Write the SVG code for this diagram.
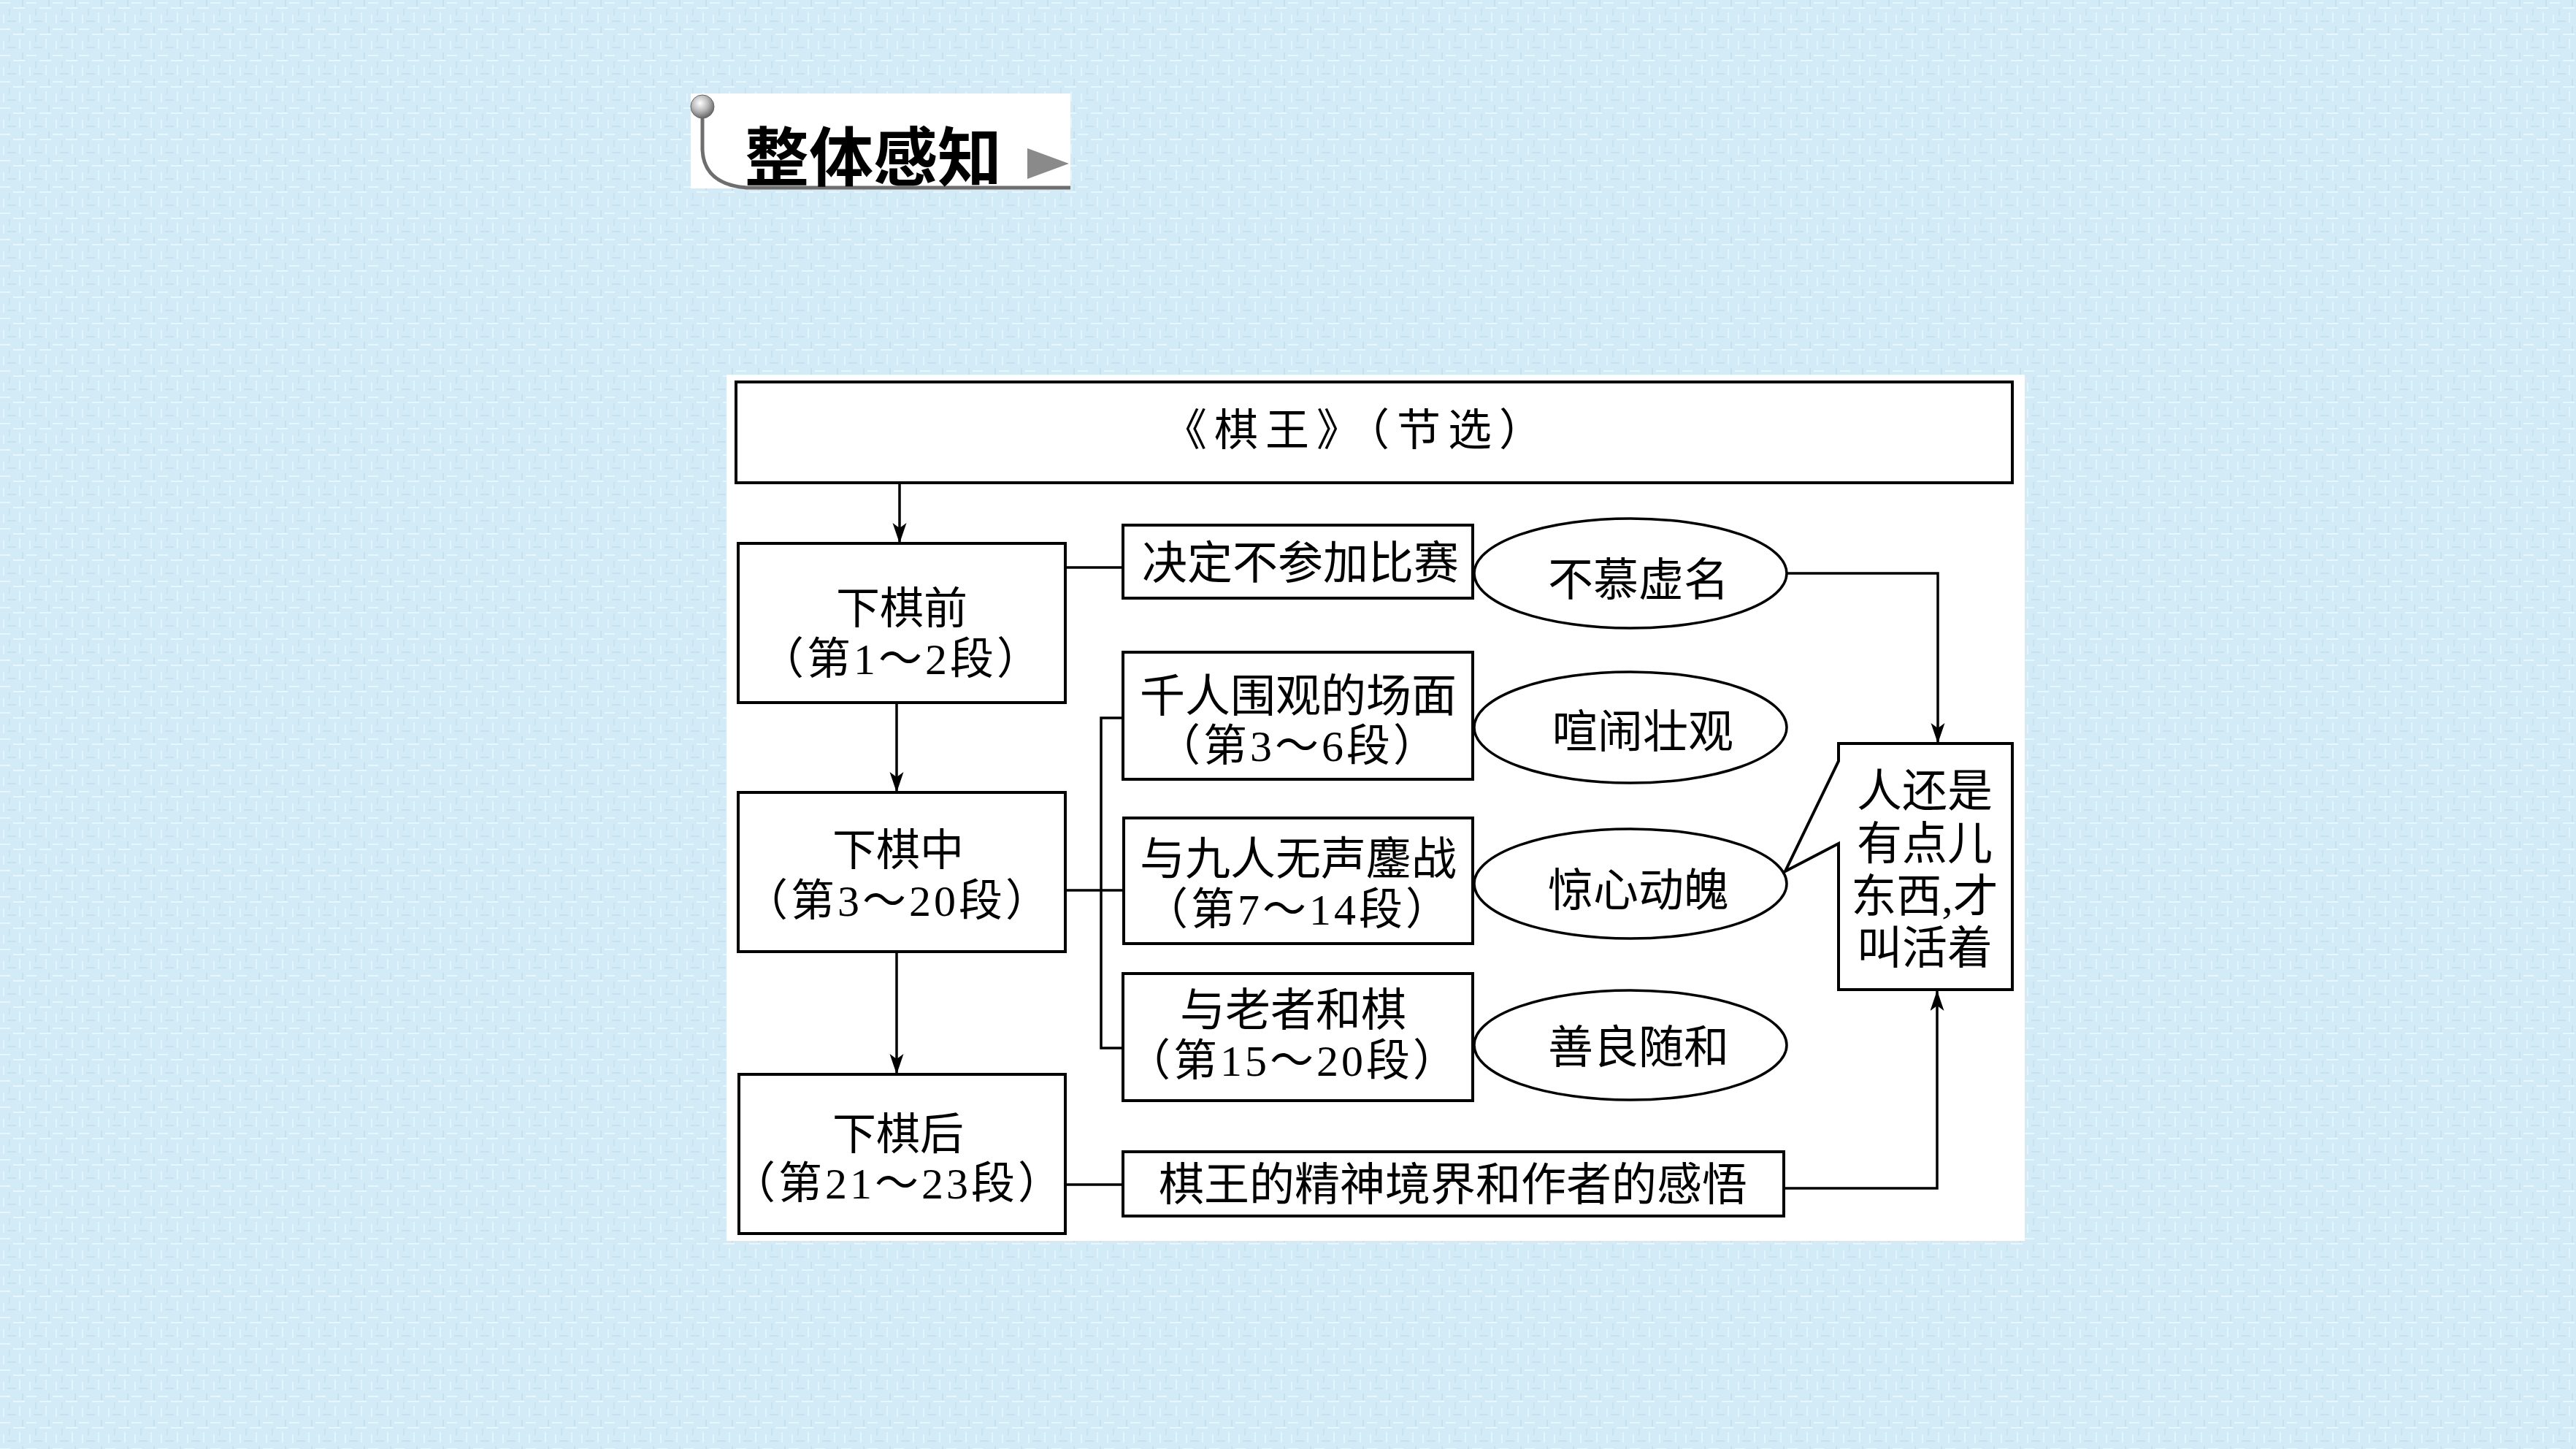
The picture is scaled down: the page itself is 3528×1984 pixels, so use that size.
<svg xmlns="http://www.w3.org/2000/svg" width="3528" height="1984" viewBox="0 0 3528 1984">
  <defs>
    <pattern id="bgtex" x="0" y="0" width="36" height="36" patternUnits="userSpaceOnUse">
      <rect width="36" height="36" fill="#d3ebf6"/>
      <rect x="0" y="3" width="14" height="2" fill="#e6f7fd"/>
      <rect x="18" y="10" width="16" height="2" fill="#e6f7fd"/>
      <rect x="4" y="20" width="2" height="12" fill="#e3f5fc"/>
      <rect x="26" y="17" width="2" height="14" fill="#e3f5fc"/>
      <rect x="10" y="28" width="12" height="2" fill="#c6e0ee"/>
      <rect x="30" y="0" width="2" height="9" fill="#c6e0ee"/>
      <rect x="12" y="12" width="2" height="9" fill="#c8e2f0"/>
    </pattern>
    <radialGradient id="ball" cx="0.4" cy="0.35" r="0.7">
      <stop offset="0" stop-color="#ffffff"/>
      <stop offset="0.5" stop-color="#b8b8b8"/>
      <stop offset="1" stop-color="#5a5a5a"/>
    </radialGradient>
    <marker id="arr" markerUnits="userSpaceOnUse" markerWidth="30" markerHeight="20" refX="28" refY="9.5" orient="auto">
      <path d="M0,0 L28,9.5 L0,19 L7,9.5 Z" fill="#000"/>
    </marker>
    <style>
      .box { fill: #fff; stroke: #000; stroke-width: 4; }
      .ell { fill: #fff; stroke: #000; stroke-width: 3.5; }
      .con { fill: none; stroke: #000; stroke-width: 3.5; }
      .t { font-family: "Liberation Serif", "Noto Sans CJK SC", serif; font-size: 60px; fill: #000; text-anchor: middle; }
      .t62 { font-size: 62px; }
      .sp { letter-spacing: 4px; }
      .hdr { font-family: "Noto Sans CJK SC", sans-serif; font-size: 88px; font-weight: bold; fill: #000; }
    </style>
  </defs>

  <rect x="0" y="0" width="3528" height="1984" fill="url(#bgtex)"/>

  <g id="header">
    <rect x="946" y="128" width="520" height="130" fill="#fff"/>
    <path d="M962,158 L962,205 Q964,252 1022,257 L1466,257" fill="none" stroke="#6e6e6e" stroke-width="5"/>
    <circle cx="962" cy="146" r="16" fill="url(#ball)" stroke="#666" stroke-width="1"/>
    <text class="hdr" x="1020" y="247">整体感知</text>
    <path d="M1407,203 L1464,224 L1407,245 Z" fill="#8a8a8a"/>
  </g>

  <rect id="panel" x="995" y="513" width="1778" height="1186" fill="#fff"/>

  <g id="connectors">
    <path class="con" d="M1232,661 L1232,744" marker-end="url(#arr)"/>
    <path class="con" d="M1228,962 L1228,1085" marker-end="url(#arr)"/>
    <path class="con" d="M1228,1303 L1228,1471" marker-end="url(#arr)"/>
    <path class="con" d="M1459,777 L1538,777"/>
    <path class="con" d="M1459,1219 L1539,1219"/>
    <path class="con" d="M1538,983 L1508,983 L1508,1435 L1538,1435"/>
    <path class="con" d="M1459,1622 L1538,1622"/>
    <path class="con" d="M2447,785 L2654,785 L2654,1018" marker-end="url(#arr)"/>
    <path class="con" d="M2443,1627 L2653,1627 L2653,1356" marker-end="url(#arr)"/>
  </g>

  <g id="n-title">
    <rect class="box" x="1008" y="523" width="1748" height="138"/>
    <text class="t" x="1858" y="610" style="letter-spacing:10px">《棋王》（节选）</text>
  </g>

  <g id="n-before">
    <rect class="box" x="1011" y="744" width="448" height="218"/>
    <text class="t" x="1235" y="854">下棋前</text>
    <text class="t sp" x="1235" y="923">（第1～2段）</text>
  </g>

  <g id="n-during">
    <rect class="box" x="1011" y="1085" width="448" height="218"/>
    <text class="t" x="1230" y="1185">下棋中</text>
    <text class="t sp" x="1230" y="1254">（第3～20段）</text>
  </g>

  <g id="n-after">
    <rect class="box" x="1012" y="1471" width="447" height="218"/>
    <text class="t" x="1230" y="1574">下棋后</text>
    <text class="t sp" x="1230" y="1641">（第21～23段）</text>
  </g>

  <g id="n-decide">
    <rect class="box" x="1538" y="719" width="479" height="100"/>
    <text class="t t62" x="1781" y="793">决定不参加比赛</text>
  </g>

  <g id="n-crowd">
    <rect class="box" x="1538" y="893" width="479" height="174"/>
    <text class="t t62" x="1778" y="975">千人围观的场面</text>
    <text class="t sp" x="1778" y="1042">（第3～6段）</text>
  </g>

  <g id="n-nine">
    <rect class="box" x="1539" y="1120" width="478" height="172"/>
    <text class="t t62" x="1778" y="1198">与九人无声鏖战</text>
    <text class="t sp" x="1778" y="1266">（第7～14段）</text>
  </g>

  <g id="n-elder">
    <rect class="box" x="1538" y="1333" width="479" height="174"/>
    <text class="t t62" x="1771" y="1405">与老者和棋</text>
    <text class="t sp" x="1771" y="1473">（第15～20段）</text>
  </g>

  <g id="n-spirit">
    <rect class="box" x="1538" y="1577" width="905" height="88"/>
    <text class="t t62" x="1990" y="1644">棋王的精神境界和作者的感悟</text>
  </g>

  <g id="e-fame">
    <ellipse class="ell" cx="2233" cy="785" rx="214" ry="75"/>
    <text class="t t62" x="2244" y="816">不慕虚名</text>
  </g>

  <g id="e-grand">
    <ellipse class="ell" cx="2233" cy="996" rx="214" ry="76"/>
    <text class="t t62" x="2250" y="1024">喧闹壮观</text>
  </g>

  <g id="e-thrill">
    <ellipse class="ell" cx="2233" cy="1210" rx="214" ry="75"/>
    <text class="t t62" x="2244" y="1241">惊心动魄</text>
  </g>

  <g id="e-kind">
    <ellipse class="ell" cx="2233" cy="1431" rx="214" ry="75"/>
    <text class="t t62" x="2244" y="1456">善良随和</text>
  </g>

  <g id="n-life">
    <path class="box" d="M2518,1042 L2518,1018 L2756,1018 L2756,1355 L2518,1355 L2518,1155 L2445,1193 Z"/>
    <text class="t t62" x="2636" y="1105">人还是</text>
    <text class="t t62" x="2636" y="1177">有点儿</text>
    <text class="t t62" x="2636" y="1249">东西,才</text>
    <text class="t t62" x="2636" y="1320">叫活着</text>
  </g>
</svg>
